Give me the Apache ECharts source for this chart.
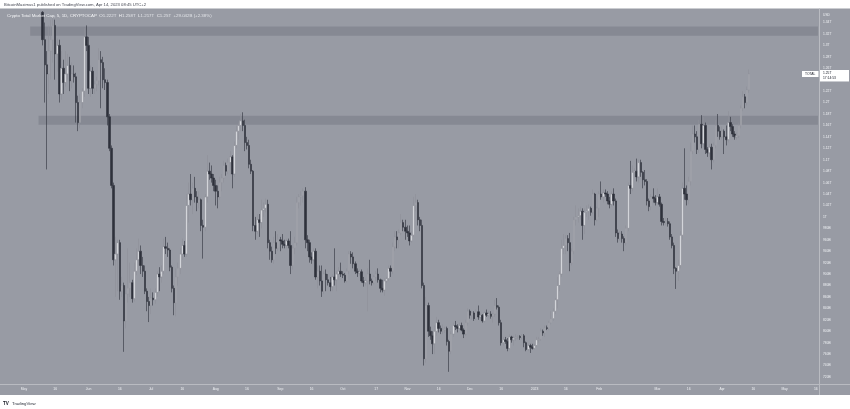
<!DOCTYPE html>
<html>
<head>
<meta charset="utf-8">
<title>Crypto Total Market Cap</title>
<script src="https://cdn.jsdelivr.net/npm/echarts@6/dist/echarts.min.js"></script>
<style>
  html, body { margin: 0; padding: 0; background: #fff; }
  #chart { width: 850px; height: 409px; }
</style>
</head>
<body>
<div id="chart"></div>
<script>
// daily candles, [open, close, low, high], billions of USD
const firstDay = '2022-05-10'
const may22 = [
  [1358, 1310, 1300, 1360], [1310, 1266, 1200, 1340], [1266, 1250, 1083, 1290], [1250, 1290, 1215, 1335],
  [1290, 1310, 1240, 1345], [1310, 1335, 1270, 1350], [1335, 1285, 1240, 1345], [1285, 1300, 1254, 1312],
  [1300, 1215, 1200, 1310], [1215, 1260, 1205, 1290], [1260, 1235, 1215, 1275], [1235, 1250, 1228, 1290],
  [1250, 1265, 1240, 1285], [1265, 1238, 1220, 1280], [1238, 1250, 1225, 1270], [1250, 1245, 1235, 1265],
  [1245, 1200, 1165, 1252], [1200, 1165, 1150, 1212], [1165, 1200, 1155, 1215], [1200, 1220, 1190, 1225],
  [1220, 1315, 1210, 1330], [1315, 1300, 1290, 1335]
]
const jun22 = [
  [1300, 1225, 1215, 1315], [1225, 1255, 1210, 1265], [1255, 1225, 1215, 1262], [1225, 1232, 1215, 1238],
  [1232, 1238, 1220, 1245], [1238, 1275, 1230, 1295], [1275, 1270, 1190, 1290], [1270, 1240, 1225, 1280],
  [1240, 1235, 1222, 1260], [1235, 1175, 1160, 1240], [1175, 1120, 1115, 1180], [1120, 1055, 1050, 1125],
  [1055, 925, 915, 1060], [925, 935, 860, 965], [935, 955, 870, 960], [955, 870, 855, 960],
  [870, 880, 860, 895], [880, 818, 764, 885], [818, 865, 805, 880], [865, 875, 850, 945],
  [875, 885, 860, 920], [885, 857, 850, 890], [857, 905, 852, 920], [905, 925, 898, 945],
  [925, 940, 915, 962], [940, 915, 900, 950], [915, 905, 895, 930], [905, 870, 865, 915],
  [870, 852, 835, 875], [852, 845, 816, 860]
]
const jul22 = [
  [845, 858, 830, 875], [858, 855, 845, 868], [855, 868, 848, 875], [868, 900, 860, 905],
  [900, 895, 870, 912], [895, 905, 885, 915], [905, 948, 900, 962], [948, 945, 935, 965],
  [945, 942, 930, 955], [942, 912, 905, 945], [912, 875, 868, 915], [875, 850, 828, 880],
  [850, 895, 826, 910], [895, 910, 880, 920], [910, 935, 900, 945], [935, 950, 925, 962],
  [950, 935, 930, 958], [935, 1020, 930, 1040], [1020, 1040, 990, 1060], [1040, 1030, 1020, 1075],
  [1030, 1050, 1005, 1060], [1050, 1035, 1025, 1070], [1035, 1025, 1010, 1045], [1025, 1030, 1015, 1045],
  [1030, 985, 975, 1032], [985, 982, 927, 995], [982, 1035, 975, 1040], [1035, 1080, 1025, 1108],
  [1080, 1075, 1065, 1095], [1075, 1068, 1060, 1090], [1068, 1055, 1045, 1075]
]
const aug22 = [
  [1055, 1045, 1020, 1065], [1045, 1035, 1015, 1055], [1035, 1060, 1030, 1070], [1060, 1068, 1045, 1075],
  [1068, 1090, 1060, 1098], [1090, 1080, 1072, 1095], [1080, 1095, 1075, 1102], [1095, 1105, 1075, 1115],
  [1105, 1075, 1050, 1108], [1075, 1125, 1070, 1132], [1125, 1150, 1120, 1160], [1150, 1160, 1135, 1165],
  [1160, 1168, 1150, 1180], [1168, 1160, 1150, 1183], [1160, 1130, 1115, 1170], [1130, 1125, 1118, 1140],
  [1125, 1092, 1085, 1135], [1092, 1080, 1075, 1100], [1080, 985, 975, 1082], [985, 975, 960, 1000],
  [975, 995, 970, 1005], [995, 990, 965, 1005], [990, 1012, 980, 1030], [1012, 1015, 1000, 1025],
  [1015, 1022, 1008, 1032], [1022, 955, 945, 1030], [955, 940, 925, 960], [940, 925, 920, 948],
  [925, 955, 918, 965], [955, 945, 935, 975], [945, 960, 940, 970]
]
const sep22 = [
  [960, 958, 940, 965], [958, 952, 945, 970], [952, 950, 945, 960], [950, 958, 945, 962],
  [958, 950, 945, 962], [950, 915, 900, 975], [915, 945, 908, 950], [945, 955, 935, 965],
  [955, 1025, 950, 1035], [1025, 1035, 1015, 1040], [1035, 1037, 1020, 1045], [1037, 1045, 1025, 1050],
  [1045, 960, 945, 1052], [960, 955, 940, 968], [955, 930, 920, 960], [930, 925, 918, 938],
  [925, 940, 922, 945], [940, 895, 890, 945], [895, 905, 875, 915], [905, 888, 880, 915],
  [888, 870, 860, 915], [870, 900, 865, 905], [900, 890, 870, 908], [890, 885, 880, 900],
  [885, 878, 870, 895], [878, 895, 870, 900], [895, 890, 880, 945], [890, 900, 870, 905],
  [900, 905, 890, 912], [905, 900, 895, 920]
]
const oct22 = [
  [900, 898, 893, 905], [898, 888, 885, 902], [888, 905, 885, 910], [905, 935, 900, 940],
  [935, 930, 918, 940], [930, 918, 910, 938], [918, 905, 900, 922], [905, 902, 895, 910],
  [902, 904, 897, 908], [904, 888, 885, 908], [888, 885, 878, 895], [885, 888, 880, 892],
  [888, 900, 835, 910], [900, 888, 882, 925], [888, 885, 880, 892], [885, 895, 882, 898],
  [895, 900, 888, 905], [900, 890, 885, 910], [890, 875, 868, 892], [875, 872, 868, 890],
  [872, 888, 862, 892], [888, 892, 884, 895], [892, 910, 888, 915], [910, 905, 895, 915],
  [905, 948, 900, 955], [948, 965, 940, 975], [965, 960, 945, 975], [960, 972, 945, 978],
  [972, 990, 968, 1005], [990, 982, 975, 995], [982, 975, 960, 995]
]
const nov22 = [
  [975, 972, 965, 985], [972, 958, 950, 985], [958, 968, 955, 975], [968, 1020, 965, 1035],
  [1020, 1025, 1010, 1040], [1025, 995, 985, 1030], [995, 985, 975, 1000], [985, 880, 875, 995],
  [880, 752, 740, 885], [752, 845, 745, 860], [845, 800, 790, 850], [800, 792, 785, 808],
  [792, 778, 760, 800], [778, 800, 760, 810], [800, 815, 792, 825], [815, 805, 798, 820],
  [805, 800, 795, 810], [800, 802, 795, 812], [802, 805, 797, 808], [805, 782, 775, 808],
  [782, 765, 729, 785], [765, 795, 760, 800], [795, 810, 790, 815], [810, 808, 802, 818],
  [808, 805, 798, 812], [805, 810, 802, 815], [810, 802, 800, 815], [802, 795, 788, 805],
  [795, 815, 792, 820], [815, 835, 810, 840]
]
const dec22 = [
  [835, 828, 822, 838], [828, 832, 820, 835], [832, 822, 818, 835], [822, 834, 820, 838],
  [834, 825, 820, 845], [825, 828, 820, 832], [828, 818, 815, 830], [818, 832, 815, 835],
  [832, 828, 825, 838], [828, 830, 825, 835], [830, 826, 822, 835], [826, 830, 815, 832],
  [830, 845, 825, 855], [845, 842, 838, 858], [842, 815, 810, 845], [815, 780, 775, 820],
  [780, 785, 775, 790], [785, 782, 778, 790], [782, 770, 765, 788], [770, 790, 768, 795],
  [790, 785, 780, 792], [785, 788, 775, 792], [788, 790, 783, 795], [790, 791, 786, 793],
  [791, 789, 785, 793], [789, 792, 786, 795], [792, 780, 772, 795], [780, 768, 765, 782],
  [768, 775, 765, 778], [775, 772, 762, 778], [772, 770, 768, 778]
]
const jan23 = [
  [770, 775, 768, 778], [775, 785, 772, 790], [785, 786, 780, 790], [786, 800, 783, 805],
  [800, 797, 792, 803], [797, 806, 790, 810], [806, 805, 802, 810], [805, 815, 802, 818],
  [815, 822, 812, 835], [822, 835, 818, 840], [835, 855, 830, 858], [855, 880, 840, 895],
  [880, 900, 870, 905], [900, 945, 895, 960], [945, 950, 935, 970], [950, 962, 935, 968],
  [962, 955, 940, 968], [955, 920, 905, 972], [920, 940, 915, 945], [940, 995, 935, 1000],
  [995, 1000, 985, 1020], [1000, 1002, 990, 1015], [1002, 1010, 995, 1018], [1010, 985, 960, 1015],
  [985, 1008, 970, 1015], [1008, 1010, 1000, 1020], [1010, 1015, 995, 1022], [1015, 1008, 1002, 1018],
  [1008, 1040, 1005, 1048], [1040, 995, 985, 1042], [995, 1015, 992, 1018]
]
const feb23 = [
  [1015, 1040, 1000, 1045], [1040, 1035, 1030, 1062], [1035, 1042, 1025, 1048], [1042, 1040, 1035, 1048],
  [1040, 1028, 1022, 1045], [1028, 1022, 1015, 1035], [1022, 1040, 1018, 1045], [1040, 1028, 1020, 1050],
  [1028, 972, 965, 1032], [972, 962, 955, 978], [962, 970, 958, 975], [970, 962, 955, 975],
  [962, 955, 940, 966], [955, 980, 950, 985], [980, 1055, 975, 1060], [1055, 1050, 1040, 1098],
  [1050, 1078, 1045, 1090], [1078, 1080, 1070, 1085], [1080, 1070, 1062, 1102], [1070, 1095, 1060, 1100],
  [1095, 1078, 1070, 1100], [1078, 1065, 1050, 1080], [1065, 1062, 1055, 1082], [1062, 1028, 1020, 1066],
  [1028, 1018, 1010, 1032], [1018, 1035, 1012, 1040], [1035, 1032, 1025, 1050], [1032, 1025, 1020, 1038]
]
const mar23 = [
  [1025, 1035, 1022, 1050], [1035, 1022, 1018, 1040], [1022, 992, 985, 1025], [992, 990, 985, 998],
  [990, 992, 985, 998], [992, 988, 983, 998], [988, 965, 960, 992], [965, 950, 945, 970],
  [950, 910, 900, 955], [910, 905, 874, 912], [905, 915, 888, 925], [915, 968, 910, 975],
  [968, 1050, 960, 1060], [1050, 1040, 1030, 1120], [1040, 1030, 1020, 1055], [1030, 1062, 1022, 1070],
  [1062, 1115, 1055, 1130], [1115, 1145, 1110, 1160], [1145, 1140, 1130, 1160], [1140, 1118, 1110, 1150],
  [1118, 1162, 1112, 1170], [1162, 1128, 1120, 1178], [1128, 1160, 1122, 1175], [1160, 1118, 1110, 1165],
  [1118, 1112, 1105, 1122], [1112, 1122, 1105, 1128], [1122, 1100, 1083, 1128], [1100, 1125, 1095, 1130],
  [1125, 1160, 1120, 1170], [1160, 1150, 1140, 1180], [1150, 1140, 1135, 1158]
]
const apr23 = [
  [1140, 1150, 1135, 1158], [1150, 1140, 1110, 1153], [1140, 1135, 1125, 1160], [1135, 1165, 1130, 1185],
  [1165, 1158, 1150, 1175], [1158, 1145, 1140, 1162], [1145, 1140, 1135, 1150], [1140, 1142, 1135, 1148],
  [1142, 1160, 1138, 1165], [1160, 1190, 1155, 1195], [1190, 1210, 1185, 1220], [1210, 1200, 1190, 1215],
  [1200, 1222, 1195, 1228], [1222, 1250, 1217, 1258]
]

// time scale shown on the chart
const axisStart = '2022-04-20'
const axisEnd = '2023-05-17'
const monthNames = ['Jan', 'Feb', 'Mar', 'Apr', 'May', 'Jun', 'Jul', 'Aug', 'Sep', 'Oct', 'Nov', 'Dec']

// horizontal zones drawn on the chart [from date, low, high]
const zones = [
  ['2022-05-04', 1317, 1333],
  ['2022-05-08', 1161, 1177]
]
const lastPrice = 1250

const bg = '#989ba4'
const upColor = '#d3d5da'
const upBorder = '#8e9199'
const downColor = '#2e313b'
const textColor = '#eef0f3'
const font = 'Liberation Sans'

function dayList (from, to) {
  let out = []
  let t = Date.parse(from + 'T00:00:00Z')
  let end = Date.parse(to + 'T00:00:00Z')
  while (t <= end) {
    out.push(new Date(t).toISOString().slice(0, 10))
    t += 86400000
  }
  return out
}

let rows = [].concat(may22, jun22, jul22, aug22, sep22, oct22, nov22, dec22, jan23, feb23, mar23, apr23)
let lastDay = new Date(Date.parse(firstDay + 'T00:00:00Z') + (rows.length - 1) * 86400000).toISOString().slice(0, 10)
let byDate = {}
dayList(firstDay, lastDay).forEach((d, i) => { byDate[d] = rows[i] })
let categories = dayList(axisStart, axisEnd)
let candleData = categories.map(d => byDate[d] || '-')

function fmtPrice (v) {
  if (v >= 1000) return parseFloat((v / 1000).toFixed(3)) + 'T'
  return v + 'B'
}

let dom = document.getElementById('chart')
let chart = echarts.init(dom, null, {renderer: 'canvas'})
let option = {
  animation: false,
  backgroundColor: '#ffffff',
  grid: {left: 0, right: 31, top: 11.1, bottom: 20.6},
  xAxis: {
    type: 'category',
    data: categories,
    boundaryGap: true,
    axisLine: {show: false},
    axisTick: {show: false},
    splitLine: {show: false},
    axisLabel: {
      color: textColor,
      fontFamily: font,
      fontSize: 3.4,
      margin: -0.5,
      interval: function (index, value) {
        let d = +value.slice(8)
        let m = +value.slice(5, 7)
        return d === 1 || (d === 16 && m !== 10 && m !== 2) || (d === 17 && m === 10)
      },
      formatter: function (value) {
        let d = +value.slice(8)
        let m = +value.slice(5, 7)
        if (d === 1) return m === 1 ? value.slice(0, 4) : monthNames[m - 1]
        return String(d)
      }
    }
  },
  yAxis: {
    type: 'value',
    position: 'right',
    min: 700,
    max: 1360,
    interval: 20,
    scale: true,
    axisLine: {show: false},
    axisTick: {show: false},
    splitLine: {show: false},
    axisLabel: {
      color: textColor,
      fontFamily: font,
      fontSize: 3.3,
      margin: 4,
      showMinLabel: false,
      showMaxLabel: false,
      formatter: fmtPrice
    }
  },
  series: [
    {
      type: 'candlestick',
      data: candleData,
      clip: true,
      barWidth: 2,
      itemStyle: {
        color: upColor,
        color0: downColor,
        borderColor: upBorder,
        borderColor0: downColor,
        borderWidth: 0.6
      },
      markArea: {
        silent: true,
        itemStyle: {color: '#868993'},
        data: zones.map(z => [{xAxis: z[0], yAxis: z[1]}, {xAxis: axisEnd, yAxis: z[2]}])
      }
    }
  ]
}
chart.setOption(option)

// overlays: page frame, legend, last price tag
let yLast = chart.convertToPixel({yAxisIndex: 0}, lastPrice)
let plotRight = 819
chart.setOption({
  graphic: [
    {type: 'rect', z: -10, shape: {x: 0, y: 8.5, width: 850, height: 386.5}, style: {fill: bg}},
    {type: 'line', z: 5, shape: {x1: plotRight + 0.5, y1: 8.5, x2: plotRight + 0.5, y2: 395}, style: {stroke: '#b9bbc1', lineWidth: 1}},
    {type: 'line', z: 5, shape: {x1: 0, y1: 384.5, x2: 850, y2: 384.5}, style: {stroke: '#b9bbc1', lineWidth: 1}},
    {type: 'text', z: 5, x: 4, y: 4.5, style: {text: 'BitcoinMaximus1 published on TradingView.com, Apr 14, 2023 08:45 UTC+2', fill: '#434651', font: '4.2px "Liberation Sans"', verticalAlign: 'middle'}},
    {
      type: 'text', z: 5, x: 7, y: 15.3,
      style: {
        text: '{a|Crypto Total Market Cap, 5, 1D, CRYPTOCAP}  {a|O}{b|1.222T}  {a|H}{b|1.258T}  {a|L}{b|1.217T}  {a|C}{b|1.25T}  {b|+29.042B (+2.38%)}',
        verticalAlign: 'middle',
        font: '4.4px "Liberation Sans"',
        rich: {
          a: {fill: '#f4f5f7', font: '4.4px "Liberation Sans"'},
          b: {fill: '#e2e4e8', font: '4.4px "Liberation Sans"'}
        }
      }
    },
    {type: 'text', z: 5, x: 823, y: 15, style: {text: 'USD', fill: textColor, font: '3.3px "Liberation Sans"', verticalAlign: 'middle'}},
    {type: 'rect', z: 6, shape: {x: 802, y: yLast - 3, width: 16.5, height: 6}, style: {fill: '#ffffff'}},
    {type: 'text', z: 7, x: 810.2, y: yLast, style: {text: 'TOTAL', fill: '#131722', font: '3.3px "Liberation Sans"', align: 'center', verticalAlign: 'middle'}},
    {type: 'rect', z: 6, shape: {x: 820, y: yLast - 4, width: 29, height: 11.5}, style: {fill: '#ffffff'}},
    {type: 'text', z: 7, x: 823, y: yLast - 0.5, style: {text: fmtPrice(lastPrice), fill: '#131722', font: '3.3px "Liberation Sans"', verticalAlign: 'middle'}},
    {type: 'text', z: 7, x: 823, y: yLast + 4.3, style: {text: '17:14:53', fill: '#131722', font: '3.3px "Liberation Sans"', verticalAlign: 'middle'}},
    {type: 'text', z: 5, x: 3, y: 403.5, style: {text: 'TV', fill: '#131722', font: 'bold 4.6px "Liberation Sans"', verticalAlign: 'middle'}},
    {type: 'text', z: 5, x: 12, y: 403.5, style: {text: 'TradingView', fill: '#2a2e39', font: '4.3px "Liberation Sans"', verticalAlign: 'middle'}}
  ]
})
</script>
</body>
</html>
